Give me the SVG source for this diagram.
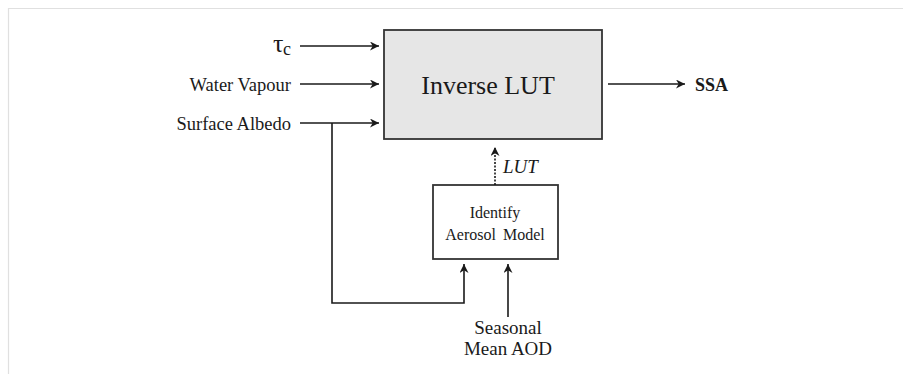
<svg xmlns="http://www.w3.org/2000/svg" width="903" height="374" viewBox="0 0 903 374">
<style>
.t{font-family:"Liberation Serif","Times New Roman",serif;fill:#1a1a1a}
.c{stroke:#1a1a1a;stroke-width:1.6;fill:none}
.box{stroke:#333;stroke-width:1.8}
</style>
<defs>
<marker id="ah" viewBox="0 0 10 10" refX="10" refY="5" markerWidth="9" markerHeight="9" markerUnits="userSpaceOnUse" orient="auto">
<path d="M0,0 L10,5 L0,10 L3,5 z" fill="#1a1a1a"/>
</marker>
</defs>
<rect x="0" y="0" width="903" height="374" fill="#fff"/>
<path d="M8.5,374 V8.5 H903" stroke="#e0e0e0" stroke-width="1.2" fill="none"/>
<g id="inverse-lut">
<rect class="box" x="384" y="30" width="218" height="109" fill="#e6e6e6"/>
<text class="t" x="488" y="94" font-size="26" text-anchor="middle">Inverse LUT</text>
</g>
<g id="identify-model">
<rect class="box" x="433" y="185" width="125" height="74" fill="#fff"/>
<text class="t" x="495" y="218" font-size="16" text-anchor="middle">Identify</text>
<text class="t" x="495" y="240" font-size="16" text-anchor="middle" word-spacing="3">Aerosol Model</text>
</g>
<g id="labels">
<text class="t" x="273" y="52" font-size="26">τ</text>
<text class="t" x="283" y="55" font-size="18">c</text>
<text class="t" x="291" y="91" font-size="18.5" text-anchor="end">Water Vapour</text>
<text class="t" x="291" y="130" font-size="18.5" text-anchor="end">Surface Albedo</text>
<text class="t" x="695" y="91" font-size="18" font-weight="bold">SSA</text>
<text class="t" x="503" y="173" font-size="19" font-style="italic">LUT</text>
<text class="t" x="508" y="334" font-size="19" text-anchor="middle">Seasonal</text>
<text class="t" x="508" y="355" font-size="19" text-anchor="middle">Mean AOD</text>
</g>
<g id="connectors">
<line class="c" x1="300" y1="46" x2="379" y2="46" marker-end="url(#ah)"/>
<line class="c" x1="300" y1="84" x2="379" y2="84" marker-end="url(#ah)"/>
<line class="c" x1="300" y1="123" x2="379" y2="123" marker-end="url(#ah)"/>
<line class="c" x1="608" y1="84" x2="685" y2="84" marker-end="url(#ah)"/>
<polyline class="c" points="332,123 332,303 464,303 464,264" marker-end="url(#ah)"/>
<line class="c" x1="508" y1="317" x2="508" y2="264" marker-end="url(#ah)"/>
<line class="c" x1="495" y1="185" x2="495" y2="147" stroke-dasharray="2,1.5" marker-end="url(#ah)"/>
</g>
</svg>
